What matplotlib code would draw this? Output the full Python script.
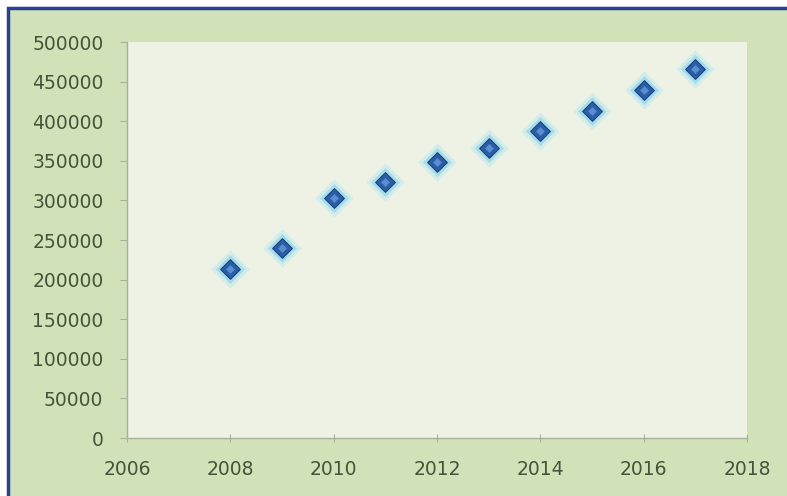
import matplotlib
matplotlib.use("Agg")
import matplotlib.pyplot as plt
from matplotlib.patches import Rectangle

years = [2008, 2009, 2010, 2011, 2012, 2013, 2014, 2015, 2016, 2017]
values = [214000, 240000, 303000, 323000, 348000, 366000, 387000, 413000, 440000, 466000]
xticks = [2006, 2008, 2010, 2012, 2014, 2016, 2018]
yticks = list(range(0, 500001, 50000))

W, H = 787, 496
fig = plt.figure(figsize=(W / 100, H / 100), dpi=100)
fig.patch.set_facecolor("white")

# green panel with blue border
panel = Rectangle((8 / W, -0.01), 1.0, (H - 8) / H + 0.01, transform=fig.transFigure,
                  facecolor="#d2e2b8", edgecolor="#2b3f98", linewidth=2.5, zorder=-5)
fig.patches.append(panel)

ax = fig.add_axes([127 / W, (H - 438) / H, (747 - 127) / W, (438 - 42) / H])
ax.set_zorder(2)
ax.set_facecolor("#eef2e4")
ax.set_xlim(2006, 2018)
ax.set_ylim(0, 500000)
ax.set_xticks(xticks)
ax.set_yticks(yticks)
ax.set_yticklabels([str(v) for v in yticks])
ax.set_xticklabels([str(v) for v in xticks])

for s in ["top", "right"]:
    ax.spines[s].set_visible(False)
for s in ["left", "bottom"]:
    ax.spines[s].set_color("#a9b09a")
    ax.spines[s].set_linewidth(1.0)
ax.tick_params(axis="y", direction="out", length=5, color="#a9b09a", labelsize=13.5,
               labelcolor="#44543a", pad=12)
ax.tick_params(axis="x", direction="inout", length=6, color="#a9b09a", labelsize=13.5,
               labelcolor="#44543a", pad=13)

# glow + diamond markers
ax.scatter(years, values, marker="D", s=380, color="#a8e4f2", alpha=0.4, linewidths=0, zorder=2)
ax.scatter(years, values, marker="D", s=220, color="#7fd0ea", alpha=0.55, linewidths=0, zorder=3)
ax.scatter(years, values, marker="D", s=100, color="#2a5fa8", edgecolors="#1c3f80",
           linewidths=0.8, zorder=4)
ax.scatter(years, values, marker="D", s=20, color="#5a8ed0", linewidths=0, zorder=5)

fig.savefig("out.png", dpi=100)
